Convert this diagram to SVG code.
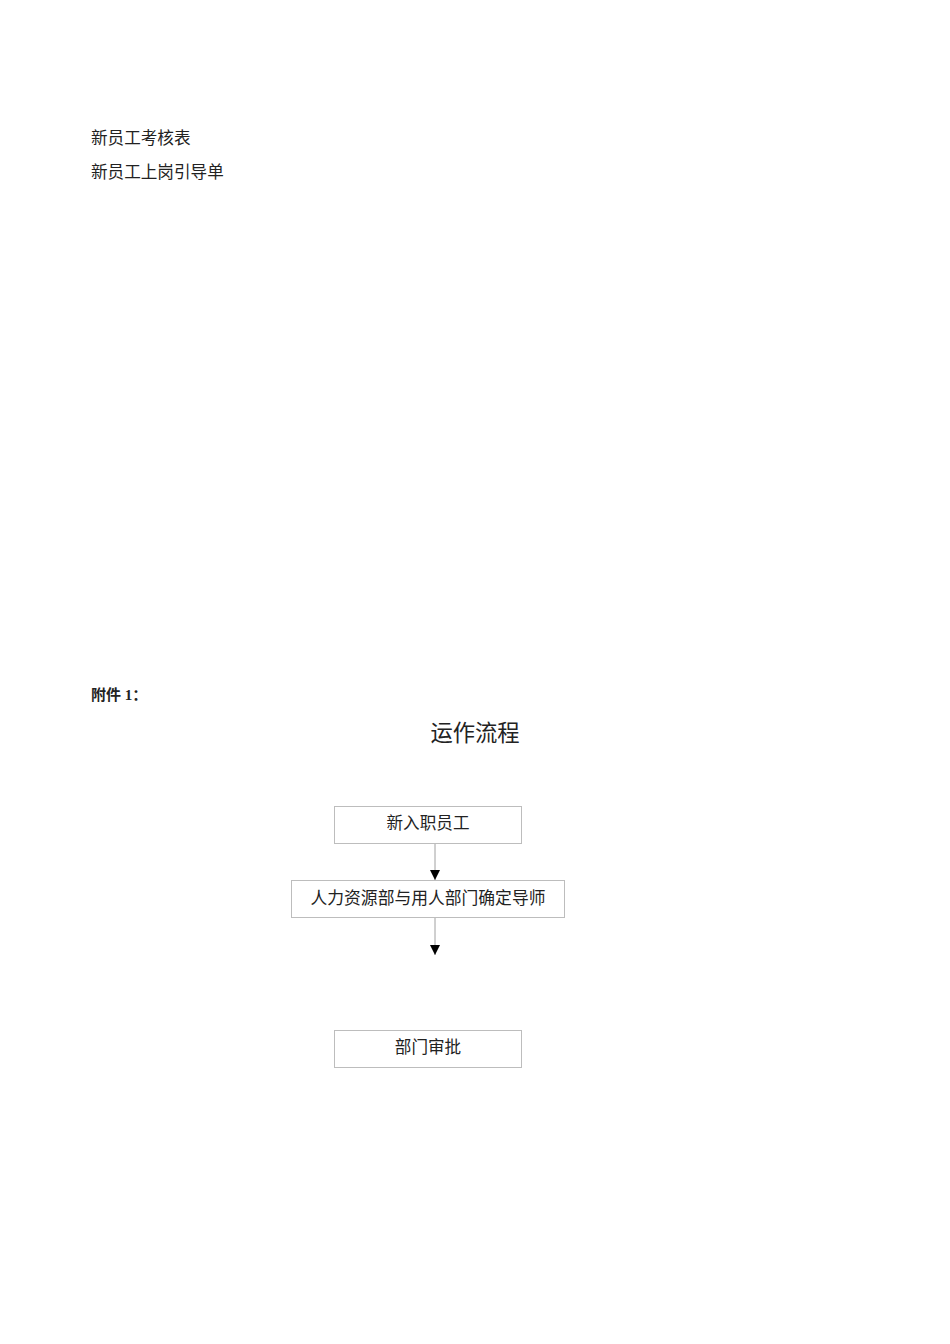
<svg xmlns="http://www.w3.org/2000/svg" width="950" height="1344" viewBox="0 0 950 1344">
<style>
.t{font-family:"Liberation Serif","Noto Sans CJK SC",serif;fill:#222}
.box{fill:#fff;stroke:#bdbdbd;stroke-width:1}
.ln{stroke:#a0a0a0;stroke-width:1;fill:none}
</style>
<defs>
<marker id="ah" markerWidth="10" markerHeight="10" refX="10" refY="5" orient="auto" markerUnits="userSpaceOnUse" viewBox="0 0 10 10">
<path d="M0,0 L10,5 L0,10 Z" fill="#000"/>
</marker>
</defs>
<rect width="950" height="1344" fill="#fff"/>
<text class="t" x="91" y="144" font-size="16.6">新员工考核表</text>
<text class="t" x="91" y="178" font-size="16.6">新员工上岗引导单</text>
<text class="t" x="91" y="700" font-size="15" font-weight="bold">附件 1：</text>
<text class="t" x="475" y="741" font-size="22.3" text-anchor="middle">运作流程</text>
<g id="connectors">
<path class="ln" d="M435,843 V880" marker-end="url(#ah)"/>
<path class="ln" d="M435,917 V955" marker-end="url(#ah)"/>
</g>
<g id="n1">
<rect class="box" x="334.5" y="806.5" width="187" height="37"/>
<text class="t" x="428" y="829" font-size="16.6" text-anchor="middle">新入职员工</text>
</g>
<g id="n2">
<rect class="box" x="291.5" y="880.5" width="273" height="37"/>
<text class="t" x="428" y="904" font-size="16.8" text-anchor="middle">人力资源部与用人部门确定导师</text>
</g>
<g id="n3">
<rect class="box" x="334.5" y="1030.5" width="187" height="37"/>
<text class="t" x="428" y="1053" font-size="16.6" text-anchor="middle">部门审批</text>
</g>
</svg>
